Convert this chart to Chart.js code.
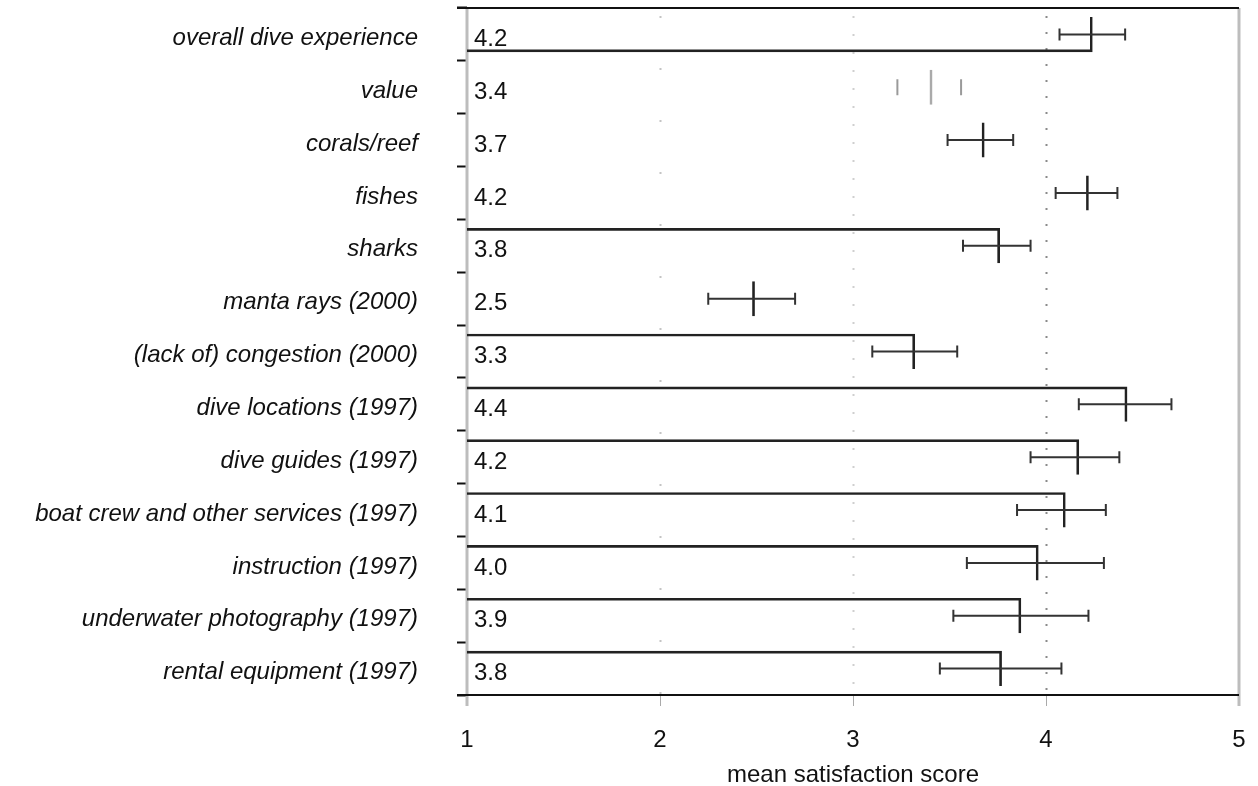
<!DOCTYPE html>
<html><head><meta charset="utf-8">
<script src="https://cdn.jsdelivr.net/npm/chart.js@4.4.0/dist/chart.umd.min.js"></script>
<style>html,body{margin:0;padding:0;background:#fff;} #wrap{width:1258px;height:786px;position:relative;}</style>
</head><body><div id="wrap"><canvas id="c"></canvas></div>
<script>
// ---- data ----
const categories = [
  'overall dive experience', 'value', 'corals/reef', 'fishes', 'sharks',
  'manta rays (2000)', '(lack of) congestion (2000)', 'dive locations (1997)',
  'dive guides (1997)', 'boat crew and other services (1997)', 'instruction (1997)',
  'underwater photography (1997)', 'rental equipment (1997)'
];
const means   = [4.24, 3.41, 3.68, 4.22, 3.76, 2.49, 3.32, 4.42, 4.17, 4.10, 3.96, 3.87, 3.77];
const lowerCI = [4.07, 3.23, 3.49, 4.05, 3.57, 2.25, 3.10, 4.17, 3.92, 3.85, 3.59, 3.52, 3.45];
const upperCI = [4.41, 3.56, 3.83, 4.37, 3.92, 2.70, 3.54, 4.65, 4.38, 4.31, 4.30, 4.22, 4.08];
const xTicks  = [1, 2, 3, 4, 5];
const xTitle  = 'mean satisfaction score';

// ---- styles ----
const FONT = '"Liberation Sans", Arial, Helvetica, sans-serif';
const edgeByRow = i => i === 0 ? 'bottom' : ([1, 2, 3, 5].includes(i) ? 'none' : 'top');
const mutedRow = i => i === 1;
const innerGrid = {2: {color: '#c4c4c4', dash: [2, 50]}, 3: {color: '#cfcfcf', dash: [2, 16]}, 4: {color: '#8a8a8a', dash: [2, 14]}};

const frame = {
  id: 'frame',
  beforeDatasetsDraw(chart) {
    const {ctx, chartArea: a, scales: {x}} = chart;
    ctx.save();
    Object.keys(innerGrid).forEach(k => {
      const g = innerGrid[k];
      const px = Math.round(x.getPixelForValue(+k)) + 0.5;
      ctx.strokeStyle = g.color; ctx.lineWidth = 2; ctx.setLineDash(g.dash);
      ctx.beginPath(); ctx.moveTo(px, a.top + 8); ctx.lineTo(px, a.bottom); ctx.stroke();
    });
    ctx.setLineDash([]);
    ctx.strokeStyle = '#bdbdbd'; ctx.lineWidth = 3;
    [xTicks[0], xTicks[xTicks.length - 1]].forEach(v => {
      const px = x.getPixelForValue(v);
      ctx.beginPath(); ctx.moveTo(px, a.top); ctx.lineTo(px, a.bottom + 11); ctx.stroke();
    });
    ctx.strokeStyle = '#111'; ctx.lineWidth = 2;
    [a.top, a.bottom].forEach(yy => {
      ctx.beginPath(); ctx.moveTo(a.left - 10, yy); ctx.lineTo(a.right, yy); ctx.stroke();
    });
    ctx.restore();
  }
};

const errorBars = {
  id: 'errorBars',
  afterDatasetsDraw(chart) {
    const {ctx, chartArea: a, scales: {x, y}} = chart;
    ctx.save();
    means.forEach((m, i) => {
      const yc = y.getPixelForValue(i);
      const xl = x.getPixelForValue(lowerCI[i]), xh = x.getPixelForValue(upperCI[i]);
      const muted = mutedRow(i);
      ctx.strokeStyle = muted ? '#9a9a9a' : '#333';
      ctx.lineWidth = 2;
      const capH = muted ? 8 : 6;
      ctx.beginPath();
      if (!muted) { ctx.moveTo(xl, yc); ctx.lineTo(xh, yc); }
      ctx.moveTo(xl, yc - capH); ctx.lineTo(xl, yc + capH);
      ctx.moveTo(xh, yc - capH); ctx.lineTo(xh, yc + capH);
      ctx.stroke();
    });
    ctx.fillStyle = '#111';
    ctx.font = '24px ' + FONT;
    ctx.textBaseline = 'middle'; ctx.textAlign = 'left';
    means.forEach((m, i) => ctx.fillText(m.toFixed(1), a.left + 7, y.getPixelForValue(i) + 5));
    ctx.restore();
  }
};

new Chart(document.getElementById('c'), {
  type: 'bar',
  data: {
    labels: categories,
    datasets: [{
      data: means.map(m => [xTicks[0], m]),
      backgroundColor: 'rgba(0,0,0,0)',
      borderColor: c => mutedRow(c.dataIndex) ? '#aaa' : '#222',
      borderWidth: c => {
        const e = edgeByRow(c.dataIndex);
        return {top: e === 'top' ? 2 : 0, bottom: e === 'bottom' ? 2 : 0, left: 0, right: 2};
      },
      borderSkipped: false,
      barThickness: 35
    }]
  },
  options: {
    indexAxis: 'y',
    responsive: true,
    maintainAspectRatio: false,
    animation: false,
    layout: {padding: {top: 8, right: 19, left: 0, bottom: 0}},
    plugins: {legend: {display: false}, tooltip: {enabled: false}},
    scales: {
      x: {
        type: 'linear', min: xTicks[0], max: xTicks[xTicks.length - 1],
        afterBuildTicks: s => { s.ticks = xTicks.map(v => ({value: v})); },
        ticks: {font: {family: FONT, size: 24}, color: '#111', padding: 20},
        grid: {
          drawOnChartArea: false, drawTicks: true, tickLength: 11, tickWidth: 1,
          tickColor: c => (c.tick && (c.tick.value === xTicks[0] || c.tick.value === xTicks[xTicks.length - 1])) ? 'rgba(0,0,0,0)' : '#aaa'
        },
        border: {display: false},
        title: {display: true, text: xTitle, font: {family: FONT, size: 24}, color: '#111', padding: {top: 4, bottom: -4}},
        afterFit: s => { s.height = 91; s.paddingLeft = 0; s.paddingRight = 0; }
      },
      y: {
        ticks: {font: {family: FONT, size: 24, style: 'italic'}, color: '#111', padding: 39, labelOffset: 4},
        grid: {offset: true, drawOnChartArea: false, drawTicks: true, tickLength: 10, tickColor: '#111', tickWidth: 2},
        border: {display: false},
        afterFit: s => { s.width = 467; s.paddingTop = 0; s.paddingBottom = 0; }
      }
    }
  },
  plugins: [frame, errorBars]
});
</script>
</body></html>
